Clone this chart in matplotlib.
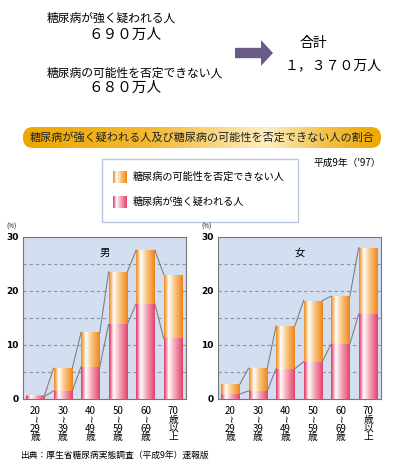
import numpy as np
import matplotlib
matplotlib.use("Agg")
import matplotlib.pyplot as plt
from matplotlib.colors import LinearSegmentedColormap
from matplotlib.patches import FancyBboxPatch, FancyArrow, Rectangle

plt.rcParams['font.family'] = ['Noto Sans CJK JP', 'DejaVu Sans']

# ---- data ----
age_labels = ["20\n≀\n29\n歳", "30\n≀\n39\n歳", "40\n≀\n49\n歳",
              "50\n≀\n59\n歳", "60\n≀\n69\n歳", "70\n歳\n以\n上"]
male_total = [0.8, 5.7, 12.3, 23.5, 27.5, 23.0]
male_strong = [0.5, 1.5, 6.0, 13.8, 17.6, 11.2]
female_total = [2.7, 5.7, 13.5, 18.2, 19.0, 28.0]
female_strong = [0.9, 1.5, 5.6, 6.9, 10.2, 15.7]
panel_titles = ["男", "女"]
legend_labels = ["糖尿病の可能性を否定できない人", "糖尿病が強く疑われる人"]
yticks = [0, 10, 20, 30]

W, H = 393, 470
fig = plt.figure(figsize=(W / 100, H / 100), dpi=100)
fig.patch.set_facecolor("white")

def fx(px):
    return px / W

def fy(py):
    return 1 - py / H

# ---- header texts ----
fig.text(fx(47), fy(18), "糖尿病が強く疑われる人", fontsize=8.5, va="center", ha="left")
fig.text(fx(88), fy(35), "６９０万人", fontsize=10.5, va="center", ha="left")
fig.text(fx(47), fy(73), "糖尿病の可能性を否定できない人", fontsize=8.5, va="center", ha="left")
fig.text(fx(88), fy(88), "６８０万人", fontsize=10.5, va="center", ha="left")
fig.text(fx(300), fy(43), "合計", fontsize=10, va="center", ha="left")
fig.text(fx(285), fy(65), "１，３７０万人", fontsize=10, va="center", ha="left")

arrow = FancyArrow(fx(235), fy(53), fx(38), 0, width=0.022, head_width=0.055,
                   head_length=fx(12), length_includes_head=True,
                   transform=fig.transFigure, color="#6a5a86", lw=0)
fig.patches.append(arrow)

# ---- banner ----
bx0, bx1, by0, by1 = 23, 381, 148, 127
banner_ax = fig.add_axes([fx(bx0), fy(by0), fx(bx1 - bx0), fy(by1) - fy(by0)])
banner_ax.set_axis_off()
bw, bh = bx1 - bx0, by0 - by1
bcmap = LinearSegmentedColormap.from_list(
    "ban", [(0, "#eda800"), (0.35, "#f2b830"), (0.68, "#fdeec4"), (0.86, "#f2bd40"), (1, "#eda800")])
grad = np.linspace(0, 1, 256).reshape(1, -1)
bbox_patch = FancyBboxPatch((0, 0), bw, bh, boxstyle="round,pad=0,rounding_size=10",
                            fc="none", ec="none")
banner_ax.add_patch(bbox_patch)
im = banner_ax.imshow(grad, extent=[0, bw, 0, bh], cmap=bcmap, aspect="auto")
im.set_clip_path(bbox_patch)
banner_ax.set_xlim(0, bw)
banner_ax.set_ylim(0, bh)
banner_ax.text(bw / 2, bh / 2, "糖尿病が強く疑われる人及び糖尿病の可能性を否定できない人の割合",
               fontsize=8, ha="center", va="center", color="#222222")

fig.text(fx(381), fy(163), "平成9年（'97）", fontsize=7, ha="right", va="center")

# ---- legend box ----
leg = Rectangle((fx(102), fy(222)), fx(196), fy(159) - fy(222), transform=fig.transFigure,
                fc="white", ec="#b8c8e4", lw=1, zorder=-1)
fig.patches.append(leg)

orange_cmap = LinearSegmentedColormap.from_list(
    "or", [(0, "#ef8a1e"), (0.1, "#f6b060"), (0.25, "#ffffff"), (0.55, "#f9c888"), (1, "#ee8418")])
pink_cmap = LinearSegmentedColormap.from_list(
    "pk", [(0, "#e62f62"), (0.1, "#f07a98"), (0.25, "#ffffff"), (0.55, "#f4aabb"), (1, "#e4406a")])

for i, (lab, cm) in enumerate(zip(legend_labels, [orange_cmap, pink_cmap])):
    yc = 177 + i * 25
    sax = fig.add_axes([fx(113), fy(yc + 6), fx(13), fy(yc - 6) - fy(yc + 6)])
    sax.set_axis_off()
    sax.imshow(grad, extent=[0, 1, 0, 1], cmap=cm, aspect="auto")
    sax.set_xlim(0, 1)
    sax.set_ylim(0, 1)
    fig.text(fx(133), fy(yc), lab, fontsize=7.3, ha="left", va="center")

# ---- charts ----
def draw_panel(left_px, totals, strongs, title):
    ax = fig.add_axes([fx(left_px), fy(399), fx(163), fy(236.7) - fy(399)])
    ax.set_facecolor("#d3def0")
    x = np.arange(len(totals))
    w = 0.68
    for yv in [5, 10, 15, 20, 25]:
        ax.axhline(yv, color="#8c94a4", lw=0.8, ls=(0, (3, 2.5)), zorder=1)
    for vals, cm, in [(totals, orange_cmap), (strongs, pink_cmap)]:
        bars = ax.bar(x, vals, width=w, color="none", edgecolor="none", zorder=2)
        for b in bars:
            x0, y0 = b.get_x(), b.get_y()
            x1, y1 = x0 + b.get_width(), y0 + b.get_height()
            img = ax.imshow(grad, extent=[x0, x1, y0, y1], cmap=cm, aspect="auto", zorder=3)
            img.set_clip_path(b)
    # connecting lines
    for vals in (totals, strongs):
        for i in range(len(vals) - 1):
            ax.plot([x[i] + w / 2, x[i + 1] - w / 2], [vals[i], vals[i + 1]],
                    color="#808080", lw=0.8, zorder=4)
    ax.set_xlim(-0.45, len(totals) - 1 + 0.47)
    ax.set_ylim(0, 30)
    ax.set_yticks(yticks)
    ax.set_yticklabels([str(v) for v in yticks], fontsize=6.5, fontweight="bold",
                       family="DejaVu Sans")
    ax.set_xticks(x)
    ax.set_xticklabels(age_labels, fontsize=7, linespacing=0.85, va="top")
    ax.tick_params(length=0, pad=3)
    ax.tick_params(axis="x", pad=5)
    for s in ax.spines.values():
        s.set_color("#777777")
        s.set_linewidth(0.8)
    ax.text(0.5, 0.9, title, transform=ax.transAxes, ha="center", va="center", fontsize=7.5)
    ax.text(-0.04, 1.04, "(%)", transform=ax.transAxes, ha="right", va="bottom", fontsize=4.5)
    return ax

draw_panel(23, male_total, male_strong, panel_titles[0])
draw_panel(218, female_total, female_strong, panel_titles[1])

fig.text(fx(20), fy(455), "出典：厚生省糖尿病実態調査（平成9年）速報版", fontsize=6.3, ha="left", va="center")

fig.savefig("out.png", dpi=100)
